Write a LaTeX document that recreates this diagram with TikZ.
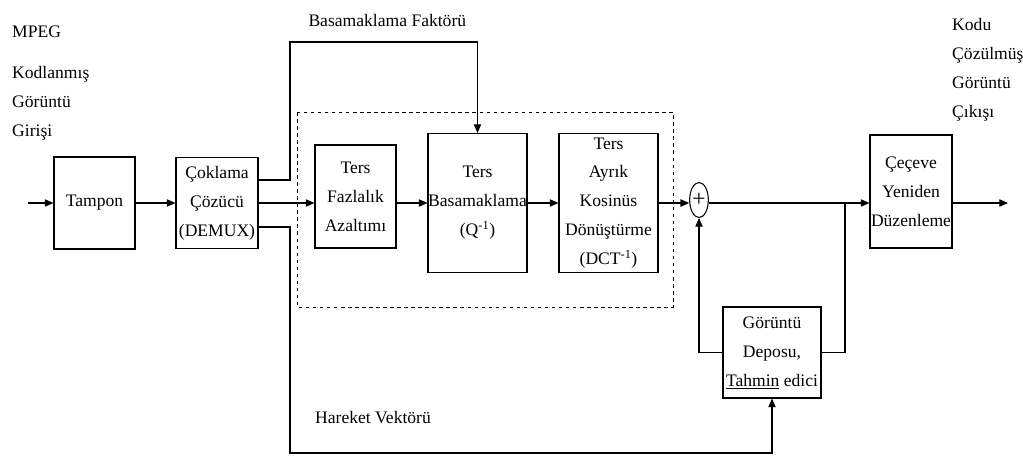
\documentclass[tikz,border=0pt]{standalone}
\usepackage{fontspec}
\setmainfont{Liberation Serif}
\usepackage{tikz}
\usetikzlibrary{arrows.meta,positioning,calc,shapes.geometric}

\begin{document}
\begin{tikzpicture}[
    font=\fontsize{15}{24.7}\selectfont,
    box/.style={draw, line width=0.9pt, inner sep=0pt, align=center},
    lbl/.style={inner sep=0pt, align=left},
    arr/.style={-{Triangle[length=2.6mm, width=2.2mm]}, line width=0.9pt},
    ln/.style={line width=0.9pt},
]
    \useasboundingbox (0,0) rectangle (30.69,-13.77);

    % texts outside the boxes
    \node[lbl, anchor=west] (mpeg) at (0.36,-0.96) {MPEG};
    \node[lbl, anchor=west] (inlbl) at (0.36,-3.09) {Kodlanmış\\Görüntü\\Girişi};
    \node[lbl, anchor=west] (outlbl) at (28.56,-2.1) {Kodu\\Çözülmüş\\Görüntü\\Çıkışı};
    \node[lbl] (qflbl) at (11.62,-0.6) {Basamaklama Faktörü};
    \node[lbl] (mvlbl) at (11.19,-12.54) {Hareket Vektörü};

    % blocks
    \node[box, minimum width=2.43cm, minimum height=2.76cm] (tampon) at (2.835,-6.09) {Tampon};
    \node[box, minimum width=2.46cm, minimum height=2.73cm] (demux) at (6.51,-6.09) {Çoklama\\Çözücü\\(DEMUX)};
    \node[box, minimum width=2.43cm, minimum height=3.09cm] (faz) at (10.665,-5.895) {Ters\\Fazlalık\\Azaltımı};
    \node[box, minimum width=2.97cm, minimum height=4.17cm] (basam) at (14.325,-6.09) {Ters\\Basamaklama\\(Q\textsuperscript{-1})};
    \node[box, minimum width=2.97cm, minimum height=4.17cm] (ayrik) at (18.255,-6.09) {Ters\\Ayrık\\Kosinüs\\Dönüştürme\\(DCT\textsuperscript{-1})};
    \node[box, ellipse, minimum width=0.5cm, minimum height=1.05cm, font=\fontsize{20}{20}\selectfont] (sum) at (20.97,-6.0) {+};
    \node[box, minimum width=2.46cm, minimum height=3.39cm] (cerceve) at (27.33,-5.745) {Çeçeve\\Yeniden\\Düzenleme};
    \node[box, minimum width=2.94cm, minimum height=2.73cm] (depo) at (23.16,-10.575) {Görüntü\\Deposu,\\\underline{Tahmin} edici};

    \draw[dashed, line width=0.7pt] (8.91,-3.36) rectangle (20.19,-9.21);

    \coordinate (in) at (0.84,-6.09);
    \coordinate (out) at (30.24,-6.09);
    \coordinate (qf) at (8.7,-1.26);
    \coordinate (mv) at (8.7,-13.59);
    \coordinate (jn) at (25.35,-6.09);

    \draw[arr] (in) -- (tampon.west);
    \draw[arr] (tampon) -- (demux);
    \draw[arr] (demux.east) -- (demux.east -| faz.west);
    \draw[arr] (faz.east |- demux) -- (basam.west);
    \draw[arr] (basam) -- (ayrik);
    \draw[arr] (ayrik.east) -- (ayrik.east -| sum.west);
    \draw[arr] (sum.east |- demux) -- (demux -| cerceve.west);
    \draw[arr] (cerceve.east |- demux) -- (out);
    \draw[arr] ([yshift=0.69cm]demux.east) -| (qf) -| (basam.north);
    \draw[arr] ([yshift=-0.72cm]demux.east) -| (mv) -| (depo.south);
    \draw[ln] (jn) |- (depo.east);
    \draw[arr] (depo.west) -| (sum.south);
\end{tikzpicture}
\end{document}
